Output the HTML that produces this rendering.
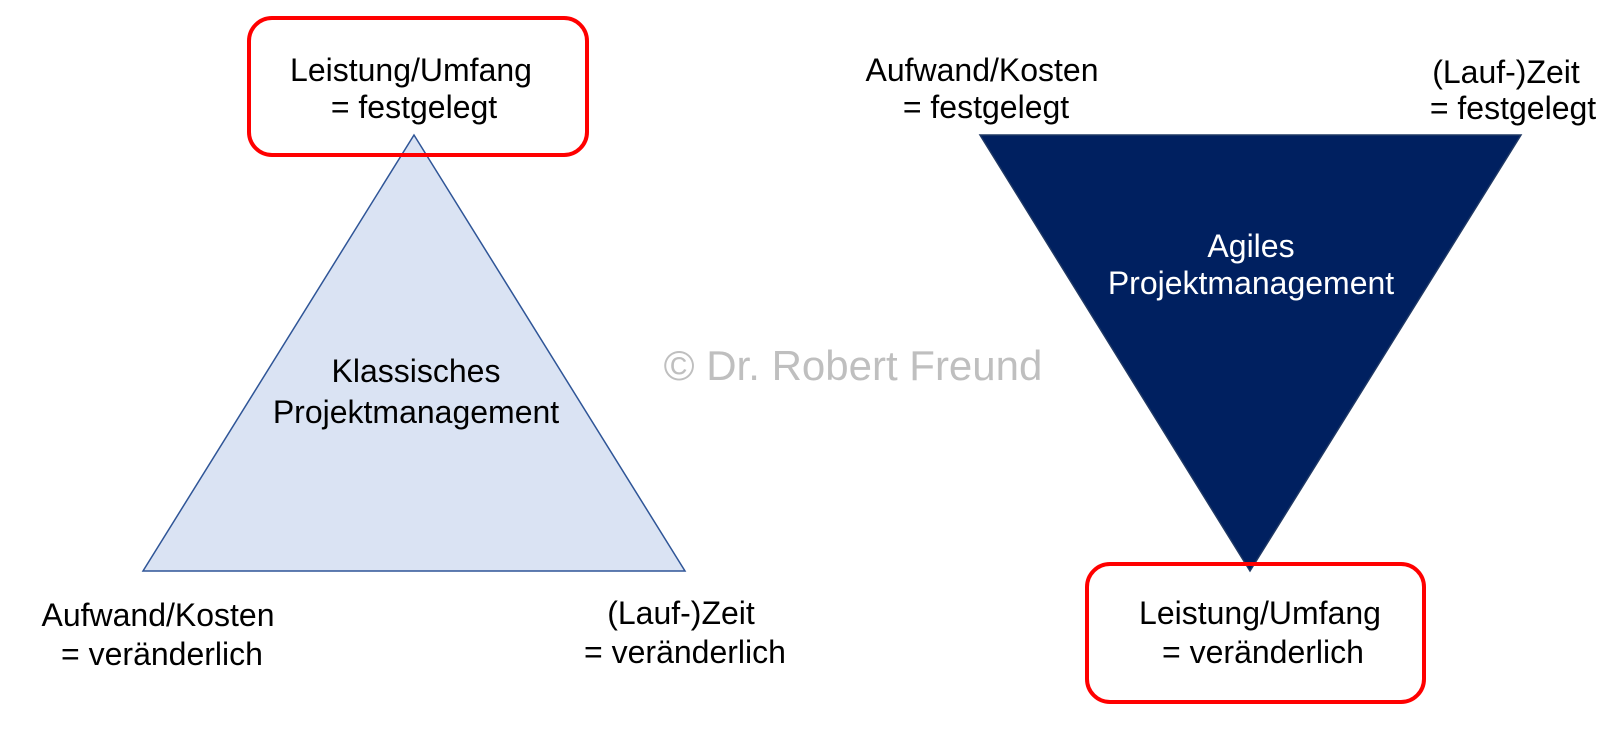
<!DOCTYPE html>
<html><head><meta charset="utf-8"><style>
html,body{margin:0;padding:0;background:#fff;}
svg{display:block;}
text{font-family:"Liberation Sans",Arial,sans-serif;font-size:32px;fill:#000;}
</style></head><body>
<svg width="1620" height="741" viewBox="0 0 1620 741" xmlns="http://www.w3.org/2000/svg">
<rect x="0" y="0" width="1620" height="741" fill="#fff"/>
<polygon points="414,135 143,571 685,571" fill="#dae3f3" stroke="#2f5597" stroke-width="1.5"/>
<rect x="249" y="18" width="338" height="137" rx="23" fill="none" stroke="#ff0000" stroke-width="4"/>
<polygon points="980,135 1521,135 1250,571" fill="#002060" stroke="#1f3864" stroke-width="1.5"/>
<rect x="1087" y="564" width="337" height="138" rx="23" fill="none" stroke="#ff0000" stroke-width="4"/>

<g text-anchor="middle">
<text x="411" y="81">Leistung/Umfang</text>
<text x="414" y="118">= festgelegt</text>
<text x="416" y="382">Klassisches</text>
<text x="416" y="423">Projektmanagement</text>
<text x="158" y="626">Aufwand/Kosten</text>
<text x="162" y="665">= veränderlich</text>
<text x="681" y="624">(Lauf-)Zeit</text>
<text x="685" y="663">= veränderlich</text>
<text x="982" y="81">Aufwand/Kosten</text>
<text x="986" y="118">= festgelegt</text>
<text x="1506" y="83">(Lauf-)Zeit</text>
<text x="1513" y="119">= festgelegt</text>
<text x="1251" y="257" style="fill:#fff">Agiles</text>
<text x="1251" y="294" style="fill:#fff">Projektmanagement</text>
<text x="1260" y="624">Leistung/Umfang</text>
<text x="1263" y="663">= veränderlich</text>
<text x="853" y="380" style="font-size:42px;fill:#bfbfbf">© Dr. Robert Freund</text>
</g>
</svg>
</body></html>
